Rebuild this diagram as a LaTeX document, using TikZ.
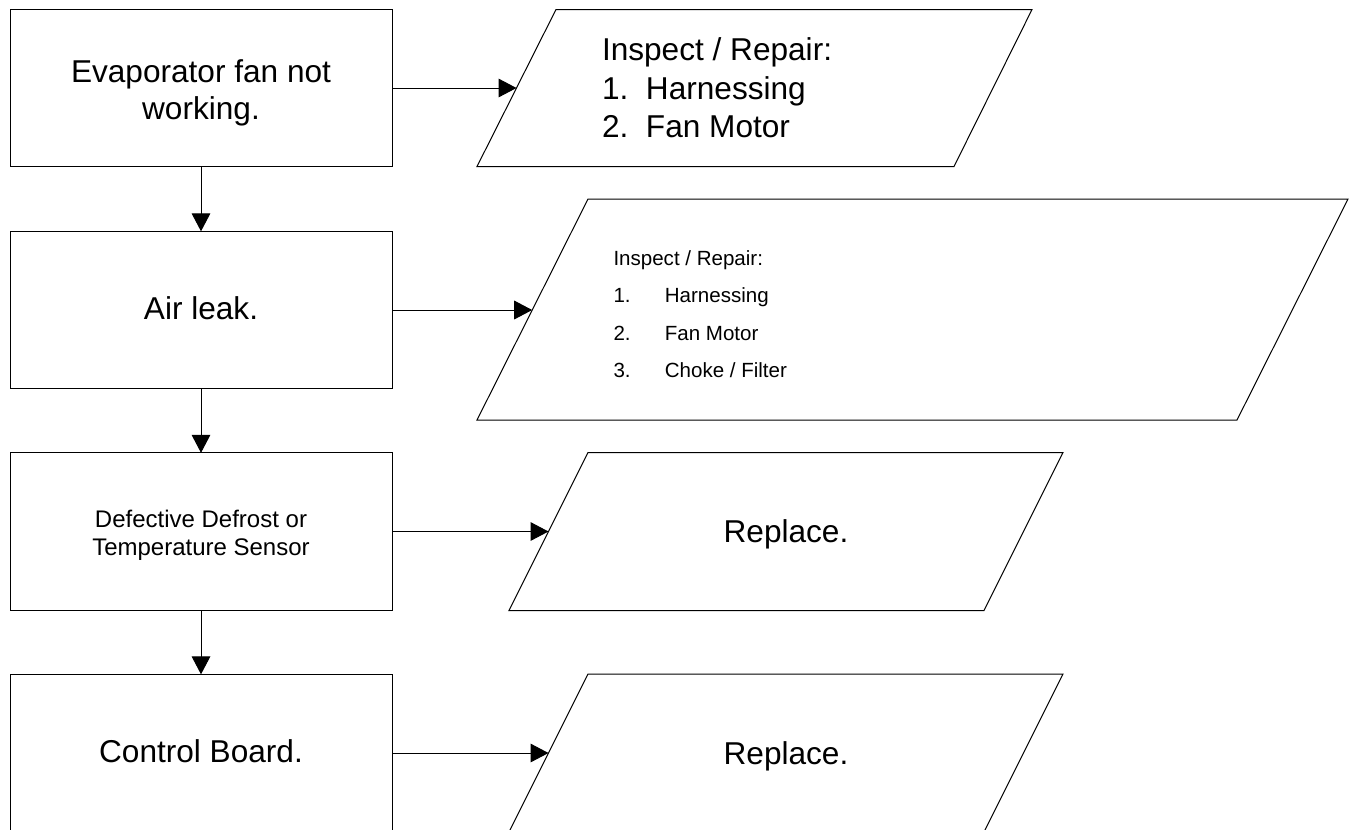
\documentclass[tikz,border=0pt]{standalone}
\usepackage{fontspec}
\setmainfont{Liberation Sans}
\usetikzlibrary{arrows.meta}
\begin{document}
\begin{tikzpicture}[x=0.75pt,y=-0.75pt,
  line width=0.75pt,
  stepbox/.style={draw, rectangle, minimum width=286.5pt, minimum height=118pt, inner sep=0pt, outer sep=0pt},
  para/.style={draw, line width=0.75pt},
  bigtxt/.style={inner sep=0pt, align=center, font=\fontsize{23.7pt}{27.75pt}\selectfont},
  midtxt/.style={inner sep=0pt, align=center, font=\fontsize{18pt}{21.5pt}\selectfont},
  listbig/.style={inner sep=0pt, anchor=west, align=left, font=\fontsize{23.7pt}{28.9pt}\selectfont},
  listsmall/.style={inner sep=0pt, anchor=west, align=left, font=\fontsize{15.4pt}{28pt}\selectfont},
  arr/.style={-{Triangle[length=13.5pt,width=14pt]}, line width=0.75pt}
]
\clip (0,0) rectangle (1351,829);
\fill[white] (0,0) rectangle (1351,829);

% left boxes
\node[stepbox] (b1) at (201,88) {};
\node[stepbox] (b2) at (201,310) {};
\node[stepbox] (b3) at (201,531.5) {};
\node[stepbox] (b4) at (201,753) {};

\node[bigtxt] (t1) at (201,92.5) {Evaporator fan not\\working.};
\node[bigtxt] (t2) at (201,308.5) {Air leak.};
\node[midtxt] (t3) at (201,535.4) {Defective Defrost or\\Temperature Sensor};
\node[bigtxt] (t4) at (201,751.5) {Control Board.};

% parallelograms
\coordinate (p1tl) at (556,9.5);  \coordinate (p1tr) at (1032,9.5);
\coordinate (p1br) at (954,166.5); \coordinate (p1bl) at (477,166.5);
\coordinate (p2tl) at (588,199);  \coordinate (p2tr) at (1348,199);
\coordinate (p2br) at (1237,420); \coordinate (p2bl) at (477,420);
\coordinate (p3tl) at (588,452.5); \coordinate (p3tr) at (1063,452.5);
\coordinate (p3br) at (984,610.5); \coordinate (p3bl) at (509,610.5);
\coordinate (p4tl) at (588,674);  \coordinate (p4tr) at (1063,674);
\coordinate (p4br) at (984,832);  \coordinate (p4bl) at (509,832);

\draw[para] (p1tl) -- (p1tr) -- (p1br) -- (p1bl) -- cycle;
\draw[para] (p2tl) -- (p2tr) -- (p2br) -- (p2bl) -- cycle;
\draw[para] (p3tl) -- (p3tr) -- (p3br) -- (p3bl) -- cycle;
\draw[para] (p4tl) -- (p4tr) -- (p4br) -- (p4bl) -- cycle;

% arrow targets on the slanted left sides
\coordinate (a1) at (516.5,88);
\coordinate (a2) at (532.2,310);
\coordinate (a3) at (548.5,531.5);
\coordinate (a4) at (548.5,753);

% parallelogram texts
\node[listbig] (q1) at (601.5,88) {Inspect / Repair:\\\makebox[33pt][l]{1.}Harnessing\\\makebox[33pt][l]{2.}Fan Motor};
\node[listsmall] (q2) at (613,314) {Inspect / Repair:\\\makebox[38.5pt][l]{1.}Harnessing\\\makebox[38.5pt][l]{2.}Fan Motor\\\makebox[38.5pt][l]{3.}Choke / Filter};
\node[bigtxt] (q3) at (786,534.7) {Replace.};
\node[bigtxt] (q4) at (786,756) {Replace.};

% connectors
\draw[arr] (b1.south) -- (b2.north);
\draw[arr] (b2.south) -- (b3.north);
\draw[arr] (b3.south) -- (b4.north);
\draw[arr] (b1.east) -- (a1);
\draw[arr] (b2.east) -- (a2);
\draw[arr] (b3.east) -- (a3);
\draw[arr] (b4.east) -- (a4);
\end{tikzpicture}
\end{document}
